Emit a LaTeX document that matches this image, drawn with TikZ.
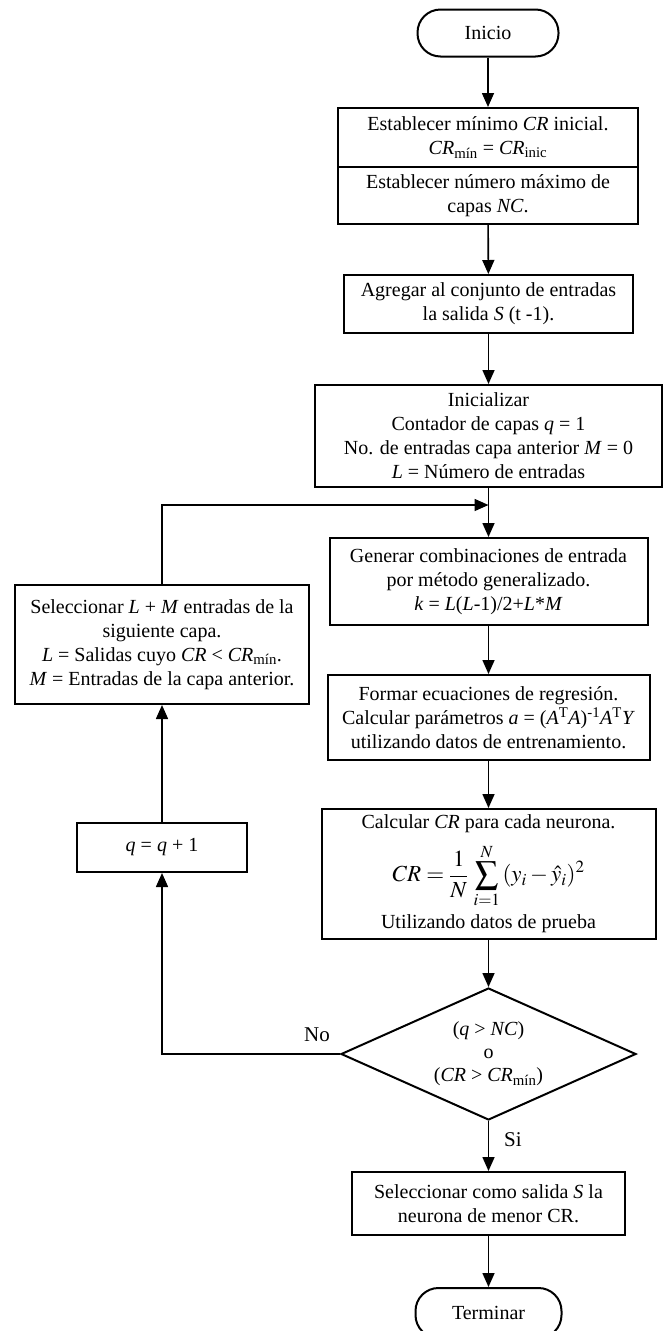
\documentclass[tikz,border=0pt]{standalone}
\usepackage{mathptmx}
\usepackage{fontspec}
\setmainfont{Liberation Serif}
\usetikzlibrary{arrows.meta,shapes.geometric}

\tikzset{
	caja/.style={draw, line width=2pt, align=center, inner sep=0pt, font=\fontsize{20}{24}\selectfont},
	terminal/.style={caja, rounded corners=23pt},
	decision/.style={caja, shape=diamond, aspect=2.2},
	flecha/.style={line width=1.6pt, -{Triangle[length=14pt,width=12pt]}},
	etiqueta/.style={font=\fontsize{21}{24}\selectfont}
}

\begin{document}
\begin{tikzpicture}[x=1pt, y=-1pt]
			\useasboundingbox (0,0) rectangle (665,1331);

			\node[terminal, minimum width=141pt, minimum height=47pt] (inicio) at (488, 33) {Inicio};
			\node[caja, minimum width=300pt, minimum height=59pt] (crmin) at (488, 137.5)
				{Establecer mínimo \textit{CR} inicial.\\ \textit{CR}\textsubscript{mín} = \textit{CR}\textsubscript{inic}};
			\node[caja, minimum width=300pt, minimum height=57pt] (ncapas) at (488, 195.5)
				{Establecer número máximo de\\ capas \textit{NC}.};
			\node[caja, minimum width=289pt, minimum height=58pt] (agregar) at (488.5, 304)
				{Agregar al conjunto de entradas\\ la salida \textit{S} (t -1).};
			\node[caja, minimum width=347pt, minimum height=102pt] (inicializar) at (488.5, 436)
				{Inicializar\\ Contador de capas \textit{q} = 1\\ No. de entradas capa anterior \textit{M} = 0\\ \textit{L} = Número de entradas};
			\node[caja, minimum width=318pt, minimum height=87pt] (generar) at (488.5, 581.5)
				{Generar combinaciones de entrada\\ por método generalizado.\\ \textit{k} = \textit{L}(\textit{L}-1)/2+\textit{L}*\textit{M}};
			\node[caja, minimum width=322pt, minimum height=85pt] (formar) at (488.5, 717.5)
				{Formar ecuaciones de regresión.\\ Calcular parámetros \textit{a} = (\textit{A}\textsuperscript{T}\textit{A})\textsuperscript{-1}\textit{A}\textsuperscript{T}\textit{Y}\\ utilizando datos de entrenamiento.};
			\node[caja, minimum width=334pt, minimum height=130pt] (calcular) at (488.5, 874)
				{Calcular \textit{CR} para cada neurona.\\[10pt] {\fontsize{23}{26}\selectfont $\displaystyle CR = \frac{1}{N}\,\sum_{i=1}^{N}\,(y_i - \hat{y}_i)^2$}\\[6pt] Utilizando datos de prueba};
			\node[decision, minimum width=295pt, minimum height=132pt] (fin) at (488.5, 1054)
				{(\textit{q} > \textit{NC})\\[-1pt] o\\[-1pt] (\textit{CR} > \textit{CR}\textsubscript{mín})};
			\node[caja, minimum width=273pt, minimum height=63pt] (salida) at (488.5, 1203.5)
				{Seleccionar como salida \textit{S} la\\ neurona de menor CR.};
			\node[terminal, minimum width=146pt, minimum height=50pt] (terminar) at (488.5, 1313) {Terminar};

			\node[caja, minimum width=294pt, minimum height=119pt] (entradas) at (162, 644.5)
				{Seleccionar \textit{L} + \textit{M} entradas de la\\ siguiente capa.\\ \textit{L} = Salidas cuyo \textit{CR} < \textit{CR}\textsubscript{mín}.\\ \textit{M} = Entradas de la capa anterior.};
			\node[caja, minimum width=170pt, minimum height=49pt] (incq) at (162, 847.5) {\textit{q} = \textit{q} + 1};

			\coordinate (union) at (488.5, 505);

			\draw[flecha] (inicio) -- (crmin);
			\draw[flecha] (ncapas) -- (agregar);
			\draw[flecha] (agregar) -- (inicializar);
			\draw[flecha] (inicializar) -- (generar);
			\draw[flecha] (generar) -- (formar);
			\draw[flecha] (formar) -- (calcular);
			\draw[flecha] (calcular) -- (fin);
			\draw[flecha] (fin) -- (salida);
			\draw[flecha] (salida) -- (terminar);

			\draw[flecha] (fin.west) -| (incq.south);
			\draw[flecha] (incq) -- (entradas);
			\draw[flecha] (entradas.north) |- (union);

			\node[etiqueta] (no) at (317, 1035) {No};
			\node[etiqueta] (si) at (513, 1140) {Si};
		\end{tikzpicture}
\end{document}
